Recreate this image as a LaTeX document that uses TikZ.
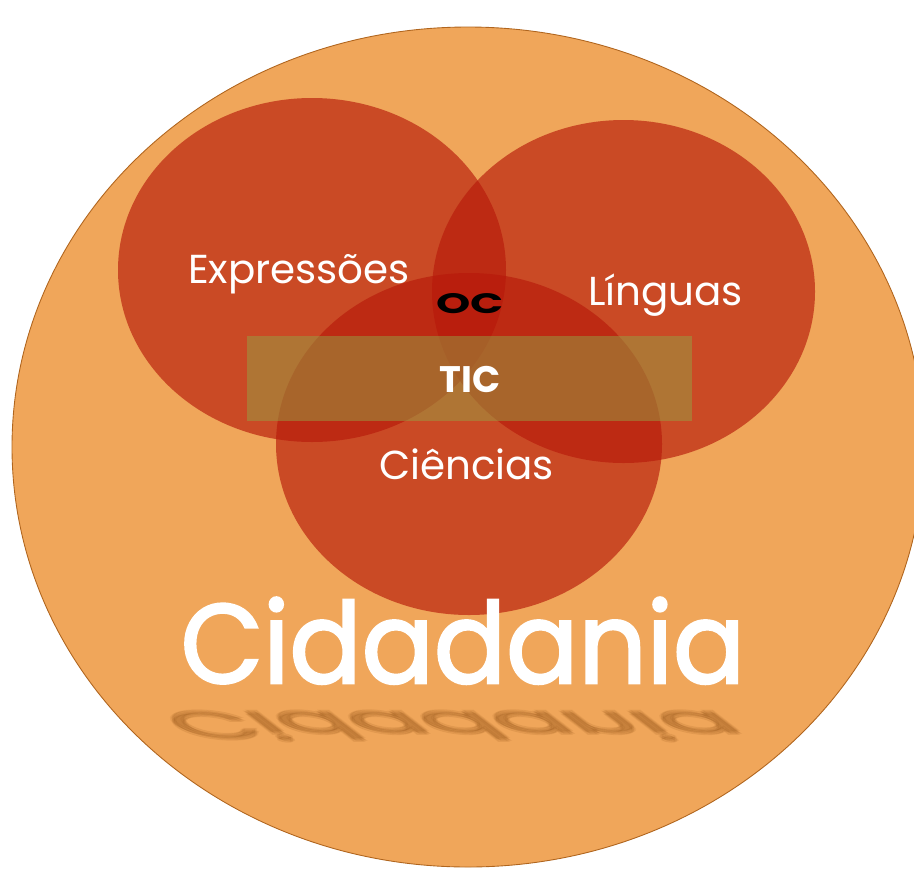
\documentclass[tikz,border=0pt]{standalone}
\usepackage{fontspec}
\setmainfont{Poppins}
\newfontfamily\ttlfont{Poppins}[FakeBold=2.2]
\definecolor{outerfill}{HTML}{F0A65A}
\definecolor{outerline}{HTML}{B0651E}
\definecolor{discred}{HTML}{B7190A}
\definecolor{barfill}{HTML}{95A044}
\definecolor{shadowtxt}{HTML}{8A4A10}
\tikzset{
  outer/.style={fill=outerfill, draw=outerline, line width=0.5pt},
  disc/.style={fill=discred, fill opacity=0.65},
  bar/.style={fill=barfill, fill opacity=0.5},
  area/.style={text=white, inner sep=0pt, anchor=base, font=\fontsize{23}{23}\selectfont},
  core/.style={text=black, inner sep=0pt, anchor=base, font=\bfseries\fontsize{16}{16}\selectfont},
  tool/.style={text=white, inner sep=0pt, anchor=base, font=\bfseries\fontsize{21}{21}\selectfont},
  ttl/.style={text=white, inner sep=0pt, anchor=base, font=\ttlfont\fontsize{64}{64}\selectfont, xscale=0.95},
  mirror/.style={text=shadowtxt, text opacity=0.09, inner sep=0pt, anchor=base,
    font=\ttlfont\fontsize{64}{64}\selectfont, xscale=0.95, yscale=-0.33, xslant=0.45},
}

\begin{document}
\begin{tikzpicture}[x=1cm,y=1cm]
  \useasboundingbox (0,0) rectangle (18.28,-17.40);
  \draw[outer] (9.36,-8.94) ellipse [x radius=9.12, y radius=8.40];
  \fill[disc] (6.24,-5.40) ellipse [x radius=3.88, y radius=3.44];
  \fill[disc] (12.47,-5.83) ellipse [x radius=3.83, y radius=3.43];
  \fill[disc] (9.38,-8.88) ellipse [x radius=3.86, y radius=3.42];
  \fill[bar] (4.94,-6.72) rectangle (13.84,-8.42);
  \node[area] (expr) at (5.98,-5.66) {Expressões};
  \node[area] (ling) at (13.31,-6.10) {Línguas};
  \node[area] (cien) at (9.33,-9.58) {Ciências};
  \node[core, xscale=1.55] (oc) at (9.40,-6.26) {OC};
  \node[tool] (tic) at (9.40,-7.84) {TIC};
  \node[ttl] (cid) at (9.26,-13.66) {Cidadania};
  % reflexo
  \node[mirror] (cidr) at (8.76,-14.24) {Cidadania};
  \node[mirror] (cidra) at (8.72,-14.22) {Cidadania};
  \node[mirror] (cidrb) at (8.80,-14.26) {Cidadania};
  \node[mirror] (cidrc) at (8.76,-14.20) {Cidadania};
  \node[mirror] (cidrd) at (8.76,-14.28) {Cidadania};
\end{tikzpicture}
\end{document}
